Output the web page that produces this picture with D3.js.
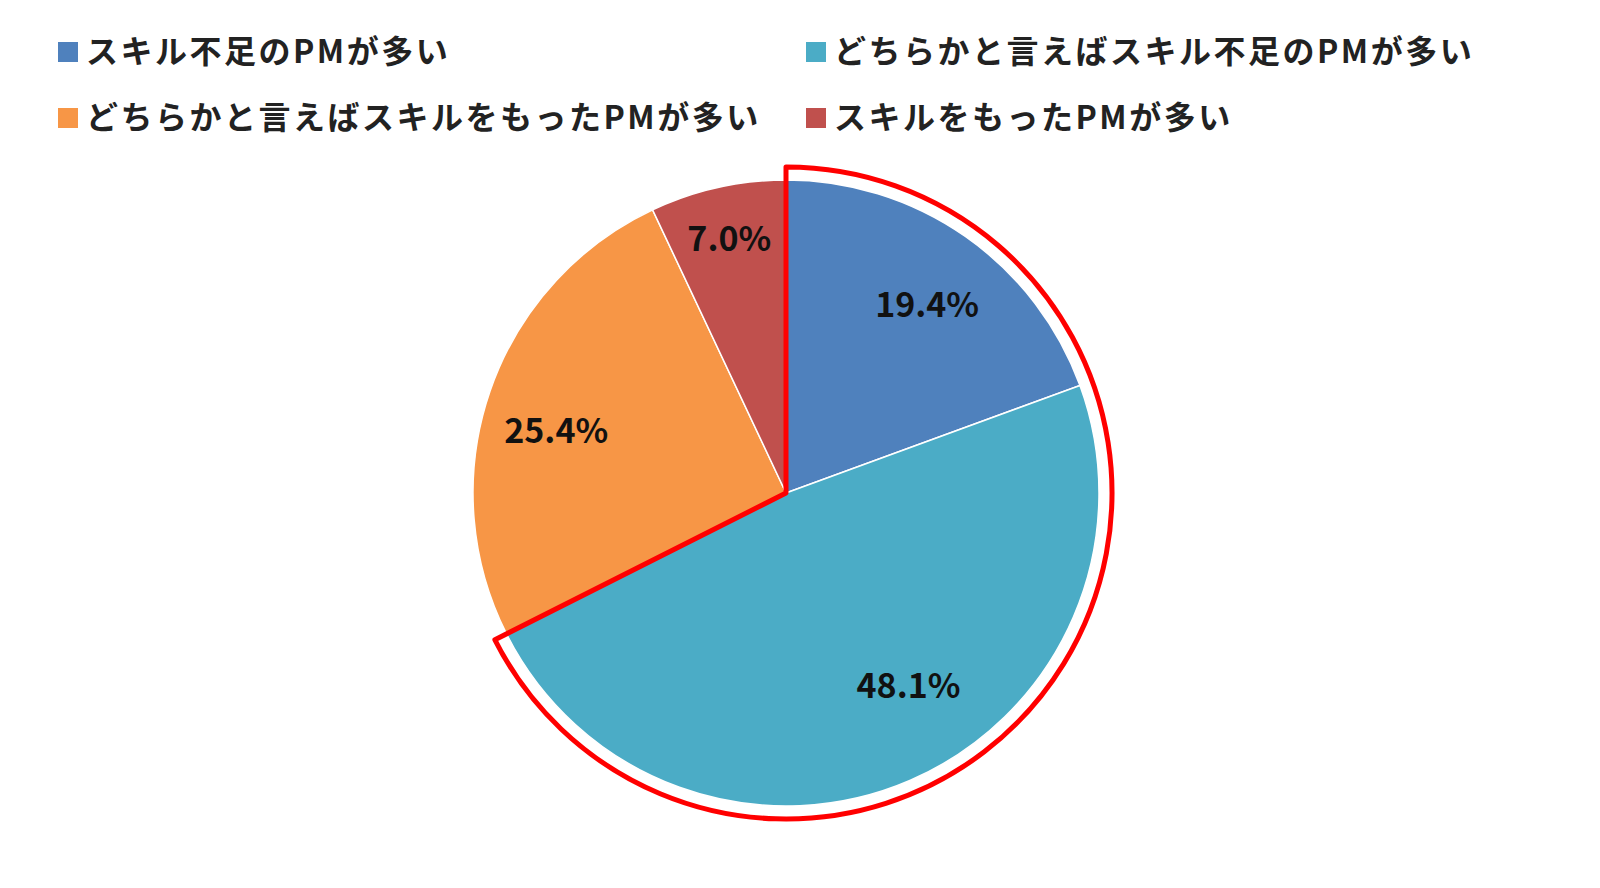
<!DOCTYPE html>
<html lang="ja">
<head>
<meta charset="UTF-8">
<script src="https://d3js.org/d3.v7.min.js"></script>
<style>body{margin:0;background:#fff}</style>
</head>
<body>
<div id="chart"></div>
<script>
const categories = ["スキル不足のPMが多い", "どちらかと言えばスキル不足のPMが多い", "どちらかと言えばスキルをもったPMが多い", "スキルをもったPMが多い"];
const values = [19.4, 48.1, 25.4, 7.0];
const colors = ["#4F81BD", "#4BACC6", "#F79646", "#C0504D"];
// label placement: fraction of radius, angular shift in degrees
const labelK = [0.75, 0.73, 0.76, 0.83];
const labelShift = [2, -9, -4, 0];

const width = 1600, height = 888;
const cx = 786, cy = 493, r = 313;
const font = "'Noto Sans CJK JP', sans-serif";

const svg = d3.select("#chart").append("svg")
    .attr("width", width).attr("height", height);

const pie = d3.pie().sort(null).value(d => d);
const arcs = pie(values);
const arc = d3.arc().innerRadius(0).outerRadius(r);

const g = svg.append("g").attr("transform", `translate(${cx},${cy})`);
g.selectAll("path.slice").data(arcs).join("path")
    .attr("class", "slice")
    .attr("d", arc)
    .attr("fill", (d, i) => colors[i])
    .attr("stroke", "#fff").attr("stroke-width", 1.5);

// labels
g.selectAll("text.lbl").data(arcs).join("text")
    .attr("class", "lbl")
    .attr("transform", (d, i) => {
        const a = (d.startAngle + d.endAngle) / 2 + labelShift[i] * Math.PI / 180;
        const k = labelK[i];
        return `translate(${Math.sin(a) * r * k},${-Math.cos(a) * r * k})`;
    })
    .attr("text-anchor", "middle").attr("dy", "0.35em")
    .attr("font-family", font).attr("font-weight", "bold").attr("font-size", 34)
    .attr("fill", "#111")
    .text(d => d.data.toFixed(1) + "%");

// red highlight around first two slices
const endA = arcs[1].endAngle;
const hr = 326;
const hl = d3.path();
hl.moveTo(0, -hr);
hl.arc(0, 0, hr, -Math.PI / 2, endA - Math.PI / 2);
hl.lineTo(0, 0);
hl.closePath();
g.append("path").attr("d", hl.toString())
    .attr("fill", "none").attr("stroke", "#ff0000").attr("stroke-width", 5)
    .attr("stroke-linejoin", "round");

// legend
const legendPos = [[58, 52], [806, 52], [58, 118], [806, 118]];
const lg = svg.append("g").selectAll("g").data(categories).join("g")
    .attr("transform", (d, i) => `translate(${legendPos[i][0]},${legendPos[i][1]})`);
lg.append("rect").attr("x", 0).attr("y", -10).attr("width", 20).attr("height", 20)
    .attr("fill", (d, i) => colors[i]);
lg.append("text").attr("x", 28).attr("dy", "0.35em")
    .attr("font-family", font).attr("font-weight", "bold").attr("font-size", 32)
    .attr("letter-spacing", "2.5px")
    .attr("fill", "#222").text(d => d);
</script>
</body>
</html>
